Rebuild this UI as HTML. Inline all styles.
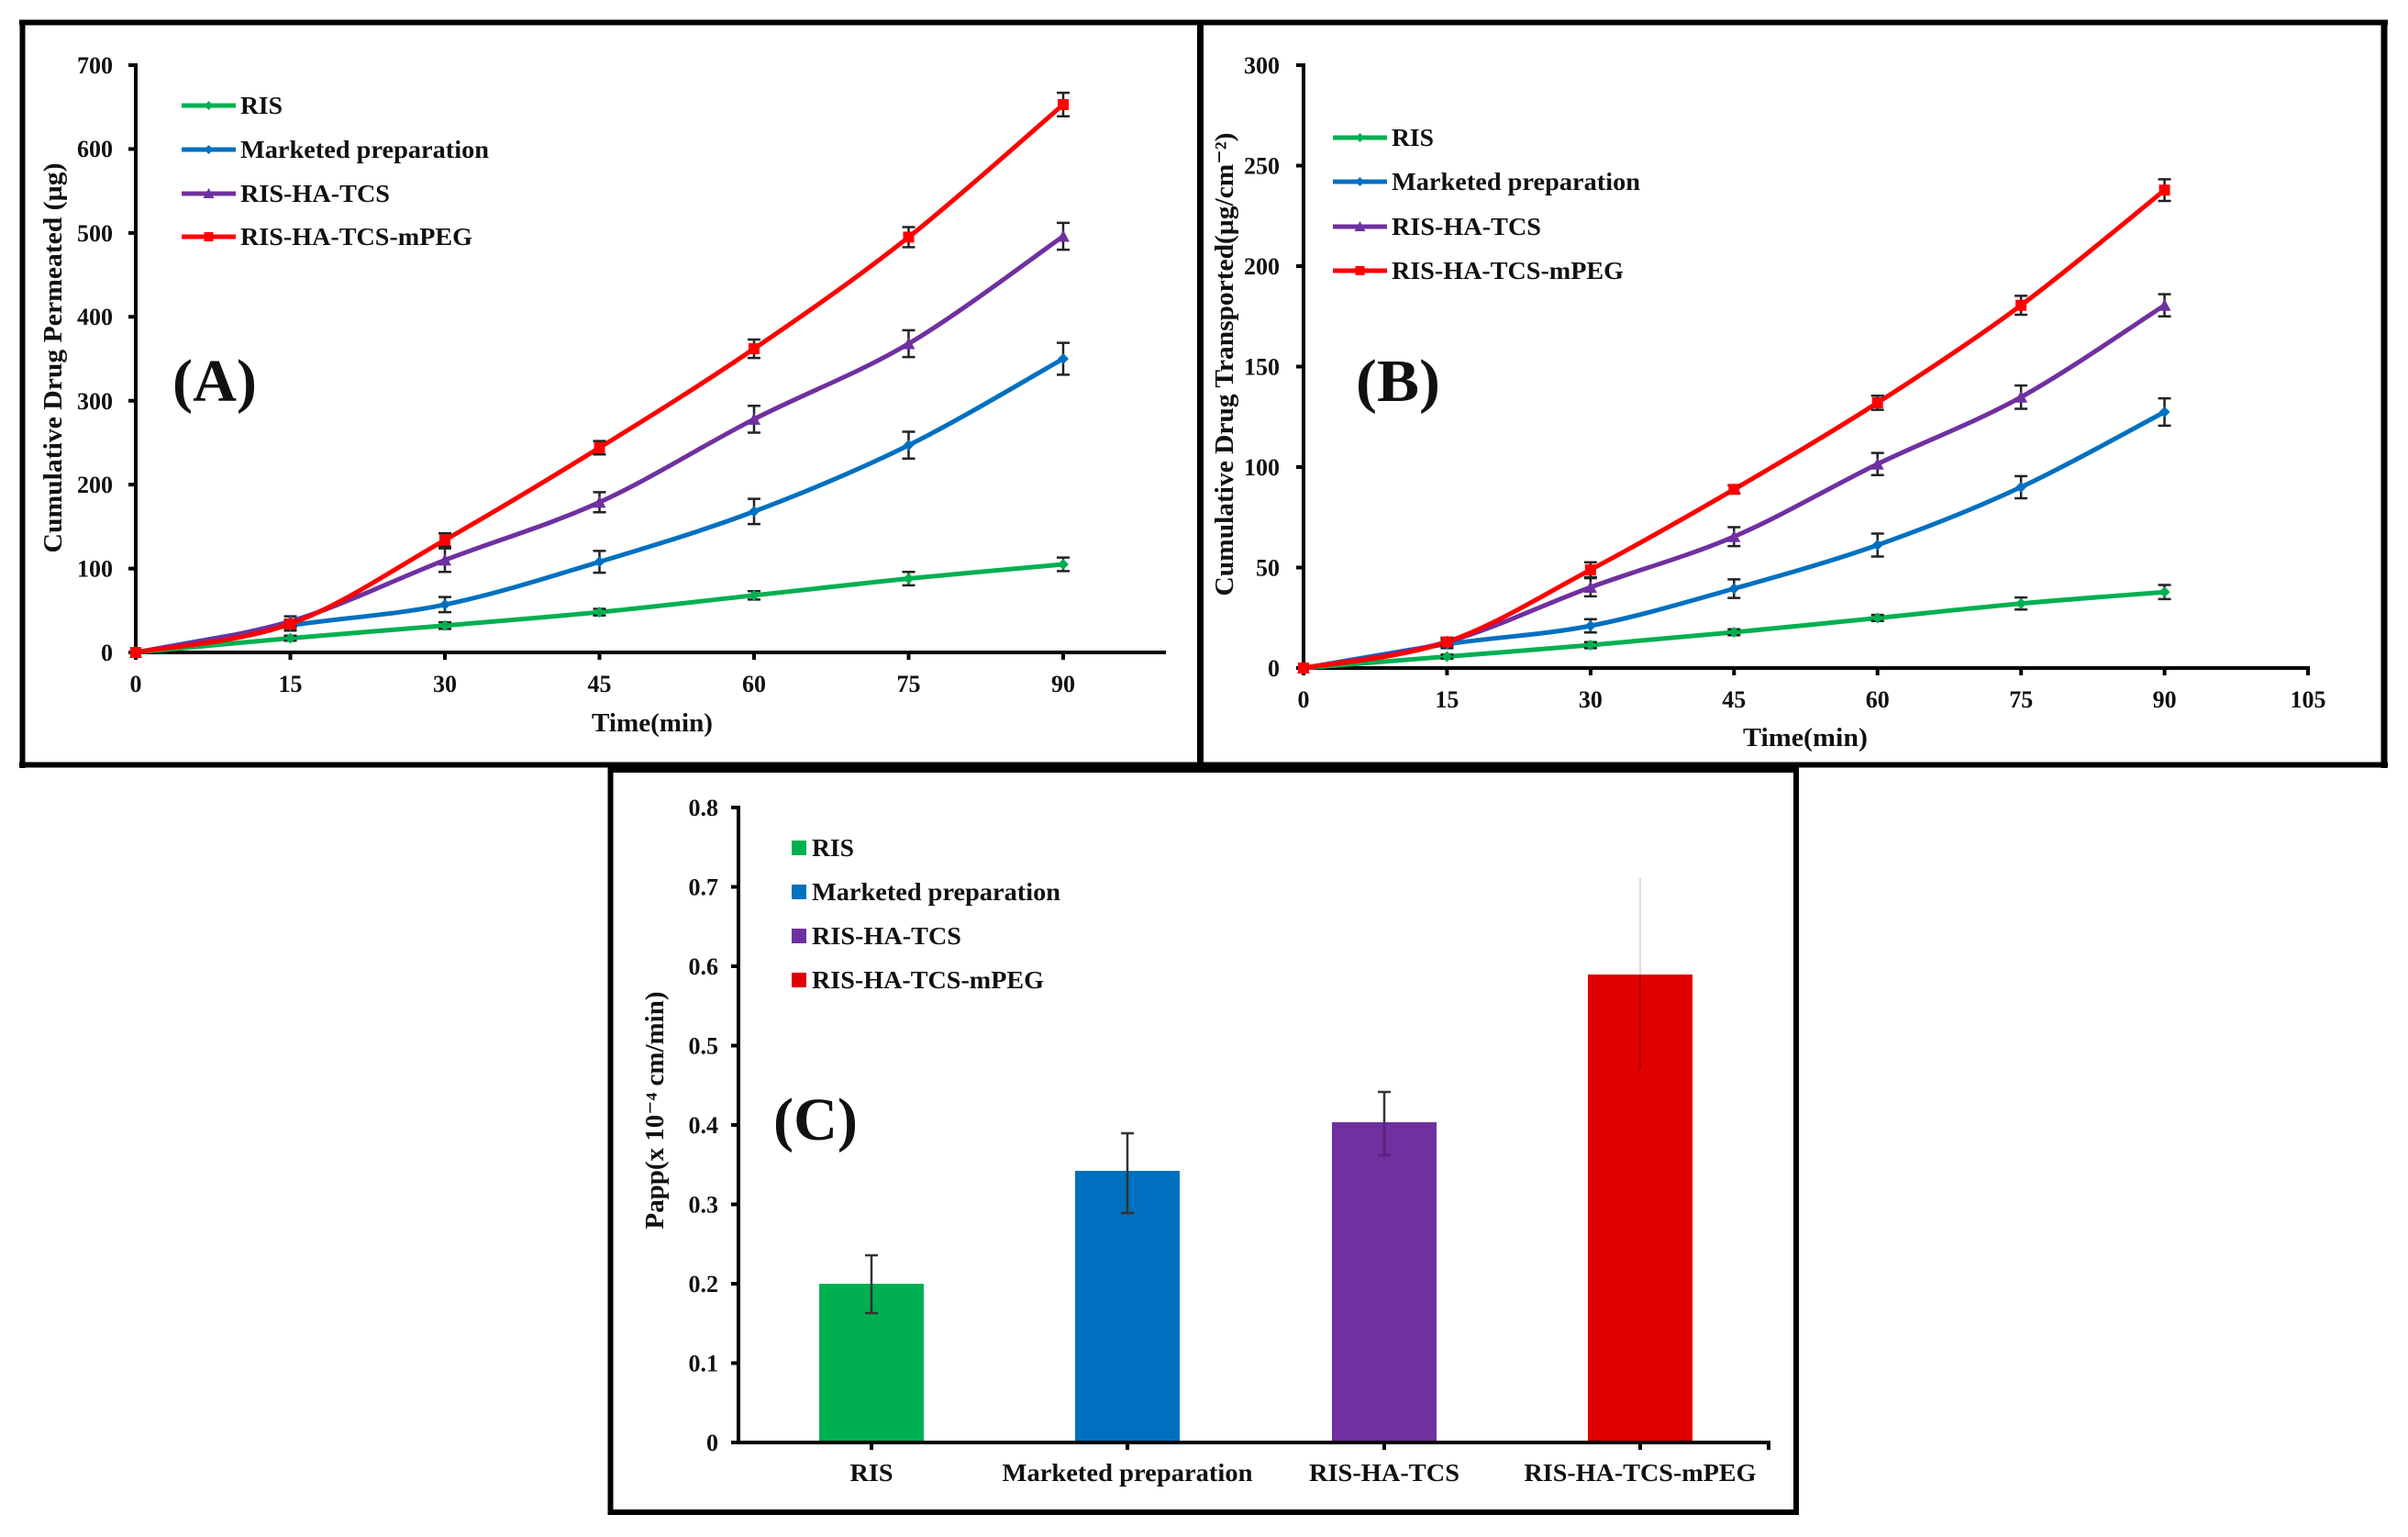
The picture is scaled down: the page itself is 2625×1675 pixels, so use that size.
<!DOCTYPE html>
<html>
<head>
<meta charset="utf-8">
<style>
html,body{margin:0;padding:0;background:#fff;}
svg{display:block;}
text{font-family:"Liberation Serif","DejaVu Serif",serif;font-weight:bold;fill:#111;}
</style>
</head>
<body>
<svg id="s" width="2625" height="1675" viewBox="0 0 2625 1675" xmlns="http://www.w3.org/2000/svg">
<rect x="0" y="0" width="2625" height="1675" fill="#fff"/>

<!-- Frames -->
<g stroke="#000" fill="none">
  <line x1="21" y1="24.5" x2="2603" y2="24.5" stroke-width="6"/>
  <line x1="24.5" y1="22" x2="24.5" y2="837" stroke-width="6"/>
  <line x1="21" y1="833.5" x2="2603" y2="833.5" stroke-width="6"/>
  <line x1="1308.5" y1="22" x2="1308.5" y2="837" stroke-width="7"/>
  <line x1="2599" y1="22" x2="2599" y2="837" stroke-width="7"/>
  <rect x="665.5" y="839" width="1292.5" height="809" stroke-width="6"/>
</g>

<!-- Panel A axes -->
<g stroke="#000" stroke-width="4" fill="none">
  <line x1="148" y1="69" x2="148" y2="713"/>
  <line x1="146" y1="711" x2="1271" y2="711"/>
  <path d="M140 71H148M140 162.4H148M140 253.9H148M140 345.3H148M140 436.7H148M140 528.1H148M140 619.6H148M140 711H148"/>
  <path d="M148 711V719M316.5 711V719M485 711V719M653.5 711V719M822 711V719M990.5 711V719M1159 711V719"/>
</g>
<g font-size="26" text-anchor="end">
  <text x="123" y="720">0</text>
  <text x="123" y="628.6">100</text>
  <text x="123" y="537">200</text>
  <text x="123" y="446">300</text>
  <text x="123" y="354">400</text>
  <text x="123" y="263">500</text>
  <text x="123" y="171">600</text>
  <text x="123" y="80">700</text>
</g>
<g font-size="26" text-anchor="middle">
  <text x="148" y="754">0</text>
  <text x="316.5" y="754">15</text>
  <text x="485" y="754">30</text>
  <text x="653.5" y="754">45</text>
  <text x="822" y="754">60</text>
  <text x="990.5" y="754">75</text>
  <text x="1159" y="754">90</text>
</g>
<text x="711" y="797" font-size="29" text-anchor="middle" textLength="132" lengthAdjust="spacingAndGlyphs">Time(min)</text>
<text transform="translate(67,390) rotate(-90)" x="0" y="0" font-size="29" text-anchor="middle" textLength="425" lengthAdjust="spacingAndGlyphs">Cumulative Drug Permeated (µg)</text>
<text x="188" y="437" font-size="66" textLength="92" lengthAdjust="spacingAndGlyphs">(A)</text>
<g font-size="27">
  <text x="262" y="124" textLength="46" lengthAdjust="spacingAndGlyphs">RIS</text>
  <text x="262" y="172" textLength="271" lengthAdjust="spacingAndGlyphs">Marketed preparation</text>
  <text x="262" y="220" textLength="163" lengthAdjust="spacingAndGlyphs">RIS-HA-TCS</text>
  <text x="262" y="267" textLength="253" lengthAdjust="spacingAndGlyphs">RIS-HA-TCS-mPEG</text>
</g>

<!-- Panel B axes -->
<g stroke="#000" stroke-width="4" fill="none">
  <line x1="1421" y1="69" x2="1421" y2="730"/>
  <line x1="1419" y1="728" x2="2518" y2="728"/>
  <path d="M1413 71H1421M1413 180.5H1421M1413 290H1421M1413 399.5H1421M1413 509H1421M1413 618.5H1421M1413 728H1421"/>
  <path d="M1421 728V736M1577.4 728V736M1733.9 728V736M1890.3 728V736M2046.7 728V736M2203.2 728V736M2359.6 728V736M2516 728V736"/>
</g>
<g font-size="26" text-anchor="end">
  <text x="1395" y="737">0</text>
  <text x="1395" y="627.5">50</text>
  <text x="1395" y="518">100</text>
  <text x="1395" y="408.5">150</text>
  <text x="1395" y="299">200</text>
  <text x="1395" y="189.5">250</text>
  <text x="1395" y="80">300</text>
</g>
<g font-size="26" text-anchor="middle">
  <text x="1421" y="771">0</text>
  <text x="1577.4" y="771">15</text>
  <text x="1733.9" y="771">30</text>
  <text x="1890.3" y="771">45</text>
  <text x="2046.7" y="771">60</text>
  <text x="2203.2" y="771">75</text>
  <text x="2359.6" y="771">90</text>
  <text x="2516" y="771">105</text>
</g>
<text x="1968" y="813" font-size="29" text-anchor="middle" textLength="136" lengthAdjust="spacingAndGlyphs">Time(min)</text>
<text transform="translate(1344,397) rotate(-90)" x="0" y="0" font-size="29" text-anchor="middle" textLength="505" lengthAdjust="spacingAndGlyphs">Cumulative Drug Transported(µg/cm⁻²)</text>
<text x="1478" y="437" font-size="66" textLength="92" lengthAdjust="spacingAndGlyphs">(B)</text>
<g font-size="27">
  <text x="1517" y="159" textLength="46" lengthAdjust="spacingAndGlyphs">RIS</text>
  <text x="1517" y="207" textLength="271" lengthAdjust="spacingAndGlyphs">Marketed preparation</text>
  <text x="1517" y="256" textLength="163" lengthAdjust="spacingAndGlyphs">RIS-HA-TCS</text>
  <text x="1517" y="304" textLength="253" lengthAdjust="spacingAndGlyphs">RIS-HA-TCS-mPEG</text>
</g>

<!-- Panel C -->
<g>
  <rect x="893" y="1399" width="114" height="173" fill="#00B050"/>
  <rect x="1172" y="1276" width="114" height="296" fill="#0070C0"/>
  <rect x="1452" y="1223" width="114" height="349" fill="#7030A0"/>
  <rect x="1731" y="1062" width="114" height="510" fill="#E00000"/>
</g>
<g stroke="#333" stroke-width="2.5" fill="none">
  <path d="M950 1368V1431M943 1368H957M943 1431H957"/>
  <path d="M1229 1235V1322M1222 1235H1236M1222 1322H1236"/>
  <path d="M1509 1190V1259M1502 1190H1516"/>
</g>
<path d="M1509 1223V1259M1502 1259H1516" stroke="#5a2080" stroke-width="2.5"/>
<path d="M1788 957V1062" stroke="#ddd" stroke-width="2"/>
<path d="M1788 1062V1165" stroke="#b00000" stroke-width="2"/>
<g stroke="#000" stroke-width="4" fill="none">
  <line x1="805" y1="878" x2="805" y2="1574"/>
  <line x1="803" y1="1572" x2="1930" y2="1572"/>
  <path d="M797 880H805M797 966.5H805M797 1053H805M797 1139.5H805M797 1226H805M797 1312.5H805M797 1399H805M797 1485.5H805M797 1572H805"/>
  <path d="M950 1572V1580M1229 1572V1580M1509 1572V1580M1788 1572V1580M1928 1572V1580"/>
</g>
<g font-size="26" text-anchor="end">
  <text x="783" y="1581">0</text>
  <text x="783" y="1494.5">0.1</text>
  <text x="783" y="1408">0.2</text>
  <text x="783" y="1321.5">0.3</text>
  <text x="783" y="1235">0.4</text>
  <text x="783" y="1148.5">0.5</text>
  <text x="783" y="1062">0.6</text>
  <text x="783" y="975.5">0.7</text>
  <text x="783" y="889">0.8</text>
</g>
<g font-size="27" text-anchor="middle">
  <text x="950" y="1614" textLength="47" lengthAdjust="spacingAndGlyphs">RIS</text>
  <text x="1229" y="1614" textLength="273" lengthAdjust="spacingAndGlyphs">Marketed preparation</text>
  <text x="1509" y="1614" textLength="164" lengthAdjust="spacingAndGlyphs">RIS-HA-TCS</text>
  <text x="1788" y="1614" textLength="253" lengthAdjust="spacingAndGlyphs">RIS-HA-TCS-mPEG</text>
</g>
<text transform="translate(723,1210) rotate(-90)" x="0" y="0" font-size="28" text-anchor="middle" textLength="259" lengthAdjust="spacingAndGlyphs">Papp(x 10⁻⁴ cm/min)</text>
<text x="843" y="1242" font-size="66" textLength="92" lengthAdjust="spacingAndGlyphs">(C)</text>
<g>
  <rect x="863" y="916" width="16" height="16" fill="#00B050"/>
  <rect x="863" y="964" width="16" height="16" fill="#0070C0"/>
  <rect x="863" y="1012" width="16" height="16" fill="#7030A0"/>
  <rect x="863" y="1060" width="16" height="16" fill="#E00000"/>
</g>
<g font-size="27">
  <text x="885" y="933" textLength="46" lengthAdjust="spacingAndGlyphs">RIS</text>
  <text x="885" y="981" textLength="271" lengthAdjust="spacingAndGlyphs">Marketed preparation</text>
  <text x="885" y="1029" textLength="163" lengthAdjust="spacingAndGlyphs">RIS-HA-TCS</text>
  <text x="885" y="1077" textLength="253" lengthAdjust="spacingAndGlyphs">RIS-HA-TCS-mPEG</text>
</g>

<g id="dyn"></g>
</svg>
<script>
(function(){
  var NS="http://www.w3.org/2000/svg";
  var g=document.getElementById("dyn");
  function el(tag,attrs){var e=document.createElementNS(NS,tag);for(var k in attrs)e.setAttribute(k,attrs[k]);g.appendChild(e);return e;}
  var colors=["#00B050","#0070C0","#7030A0","#FF0000"];
  var shapes=["diamond","diamond","triangle","square"];
  function marker(x,y,shape,c,s){
    s=s||6;
    if(shape==="diamond"){el("polygon",{points:(x)+","+(y-s)+" "+(x+s)+","+y+" "+x+","+(y+s)+" "+(x-s)+","+y,fill:c});}
    else if(shape==="square"){el("rect",{x:x-s,y:y-s,width:2*s,height:2*s,fill:c});}
    else {el("polygon",{points:x+","+(y-s-1)+" "+(x+s+1)+","+(y+s)+" "+(x-s-1)+","+(y+s),fill:c});}
  }
  function smooth(p){
    var d="M"+p[0][0]+","+p[0][1];
    for(var i=0;i<p.length-1;i++){
      var p0=p[i-1]||p[i],p1=p[i],p2=p[i+1],p3=p[i+2]||p[i+1];
      var c1x=p1[0]+(p2[0]-p0[0])/6,c1y=p1[1]+(p2[1]-p0[1])/6;
      var c2x=p2[0]-(p3[0]-p1[0])/6,c2y=p2[1]-(p3[1]-p1[1])/6;
      d+=" C"+c1x.toFixed(1)+","+c1y.toFixed(1)+" "+c2x.toFixed(1)+","+c2y.toFixed(1)+" "+p2[0].toFixed(1)+","+p2[1].toFixed(1);
    }
    return d;
  }
  function panel(data,X,Y){
    for(var s=0;s<data.length;s++){
      var pts=data[s].map(function(d){return [X(d[0]),Y(d[1])];});
      el("path",{d:smooth(pts),fill:"none",stroke:colors[s],"stroke-width":5,"stroke-linejoin":"round","stroke-linecap":"round"});
      for(var i=0;i<data[s].length;i++){
        var d=data[s][i],x=X(d[0]);
        if(d[2]){
          var y1=Y(d[1]+d[2]),y2=Y(d[1]-d[2]);
          el("path",{d:"M"+x+" "+y1+"V"+y2+"M"+(x-7)+" "+y1+"H"+(x+7)+"M"+(x-7)+" "+y2+"H"+(x+7),stroke:"#222","stroke-width":2.5,fill:"none"});
        }
        marker(x,Y(d[1]),shapes[s],colors[s],6);
      }
    }
  }
  var A=[
    [[0,0],[15,17,3],[30,32,4],[45,48,4],[60,68,5],[75,88,8],[90,105,8]],
    [[0,0],[15,32,6],[30,57,9],[45,108,13],[60,168,15],[75,247,16],[90,350,19]],
    [[0,0],[15,37,6],[30,110,14],[45,179,12],[60,278,16],[75,368,16],[90,496,16]],
    [[0,0],[15,34,5],[30,134,8],[45,244,8],[60,362,11],[75,495,12],[90,653,14]]
  ];
  panel(A,function(t){return 148+t*11.2333;},function(v){return 711-v*0.9143;});
  var B=[
    [[0,0],[15,5.7,1],[30,11.4,1.5],[45,17.8,1.5],[60,24.9,1.5],[75,32.1,3],[90,37.8,3.5]],
    [[0,0],[15,11.9,2],[30,21,3.3],[45,39.5,4.6],[60,61.2,5.7],[75,90,5.5],[90,127.4,6.8]],
    [[0,0],[15,13,2],[30,40.2,4.5],[45,65.4,4.7],[60,101.5,5.5],[75,134.8,5.8],[90,180.5,5.5]],
    [[0,0],[15,13,2],[30,48.9,3.7],[45,88.9,2],[60,132,3.5],[75,180.5,4.7],[90,237.8,5.4]]
  ];
  panel(B,function(t){return 1421+t*10.4286;},function(v){return 728-v*2.19;});
  // legends
  var ly=[[115,163,211,258],[150,198,247,295]];
  var lx=[[198,257],[1453,1512]];
  for(var p=0;p<2;p++){
    for(var s=0;s<4;s++){
      var y=ly[p][s];
      el("line",{x1:lx[p][0],y1:y,x2:lx[p][1],y2:y,stroke:colors[s],"stroke-width":5});
      marker((lx[p][0]+lx[p][1])/2,y,shapes[s],colors[s],5);
    }
  }
})();
</script>
</body>
</html>
